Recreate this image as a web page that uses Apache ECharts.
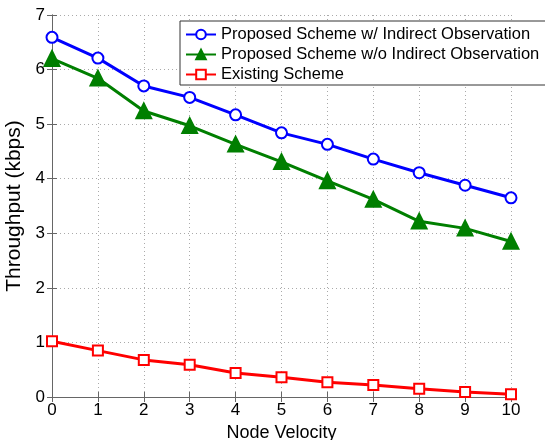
<!DOCTYPE html>
<html><head><meta charset="utf-8">
<script src="https://cdn.jsdelivr.net/npm/echarts@6/dist/echarts.min.js"></script>
<style>html,body{margin:0;padding:0;background:#fff}#c{width:545px;height:440px}</style>
</head><body><div id="c"></div>
<script>
const categories = [0,1,2,3,4,5,6,7,8,9,10];
const withIndirect = [6.59,6.21,5.70,5.49,5.17,4.84,4.63,4.36,4.11,3.88,3.65];
const withoutIndirect = [6.20,5.84,5.24,4.97,4.63,4.31,3.96,3.62,3.22,3.09,2.85];
const existing = [1.02,0.85,0.68,0.59,0.44,0.36,0.27,0.22,0.15,0.09,0.05];
const yTicks = [0,1,2,3,4,5,6,7];
const names = ['Proposed Scheme w/ Indirect Observation','Proposed Scheme w/o Indirect Observation','Existing Scheme'];

const chart = echarts.init(document.getElementById('c'));
const font = 'Liberation Sans, Arial, sans-serif';
const axisCol = '#666';
function line(name, data, color, symbol, size){
  return {name, type:'line', data: categories.map((c,i)=>[c,data[i]]), xAxisIndex:0, yAxisIndex:0,
    lineStyle:{color, width:3}, itemStyle:{color, borderColor:color, borderWidth:2.5},
    symbol, symbolSize:size, showAllSymbol:true, animation:false};
}
chart.setOption({
  backgroundColor:'#fff',
  animation:false,
  grid:{left:52, right:34, top:15, bottom:43, containLabel:false, outerBoundsMode:'none'},
  legend:{
    data:names, orient:'vertical', left:180, top:21, width:380,
    backgroundColor:'#fff', borderColor:'#333', borderWidth:1, borderRadius:0,
    padding:[5,20,2,5], itemGap:3, itemWidth:30, itemHeight:12,
    textStyle:{fontFamily:font, fontSize:16.5, color:'#000'}
  },
  xAxis:[{
    type:'value', min:0, max:10, interval:1,
    name:'Node Velocity', nameLocation:'middle', nameGap:20,
    nameTextStyle:{fontFamily:font, fontSize:18, color:'#000'},
    axisLine:{lineStyle:{color:axisCol}}, axisTick:{inside:true, length:5, lineStyle:{color:axisCol}},
    axisLabel:{fontFamily:font, fontSize:17, color:'#000', margin:5},
    splitLine:{show:true, lineStyle:{color:'#aaa', type:[1,3]}}
  },{
    type:'value', position:'top', min:0, max:10, interval:1,
    axisLine:{lineStyle:{color:axisCol}}, axisTick:{inside:true, length:5, lineStyle:{color:axisCol}},
    axisLabel:{show:false}, splitLine:{show:false}
  }],
  yAxis:[{
    type:'value', min:0, max:7, interval:1,
    name:'Throughput (kbps)', nameLocation:'middle', nameGap:27,
    nameTextStyle:{fontFamily:font, fontSize:21, color:'#000'},
    axisLine:{show:true, lineStyle:{color:axisCol}}, axisTick:{show:true, inside:true, length:5, lineStyle:{color:axisCol}},
    axisLabel:{fontFamily:font, fontSize:17, color:'#000', margin:7, formatter:v=>yTicks.includes(v)?String(v):''},
    splitLine:{show:true, lineStyle:{color:'#aaa', type:[1,3]}}
  },{
    type:'value', position:'right', min:0, max:7, interval:1,
    axisLine:{show:true, lineStyle:{color:axisCol}}, axisTick:{show:true, inside:true, length:5, lineStyle:{color:axisCol}},
    axisLabel:{show:false}, splitLine:{show:false}
  }],
  series:[
    line(names[0], withIndirect, '#0000ff', 'emptyCircle', 11),
    line(names[1], withoutIndirect, '#007f00', 'triangle', 14),
    line(names[2], existing, '#ff0000', 'emptyRect', 10)
  ]
});
</script></body></html>
